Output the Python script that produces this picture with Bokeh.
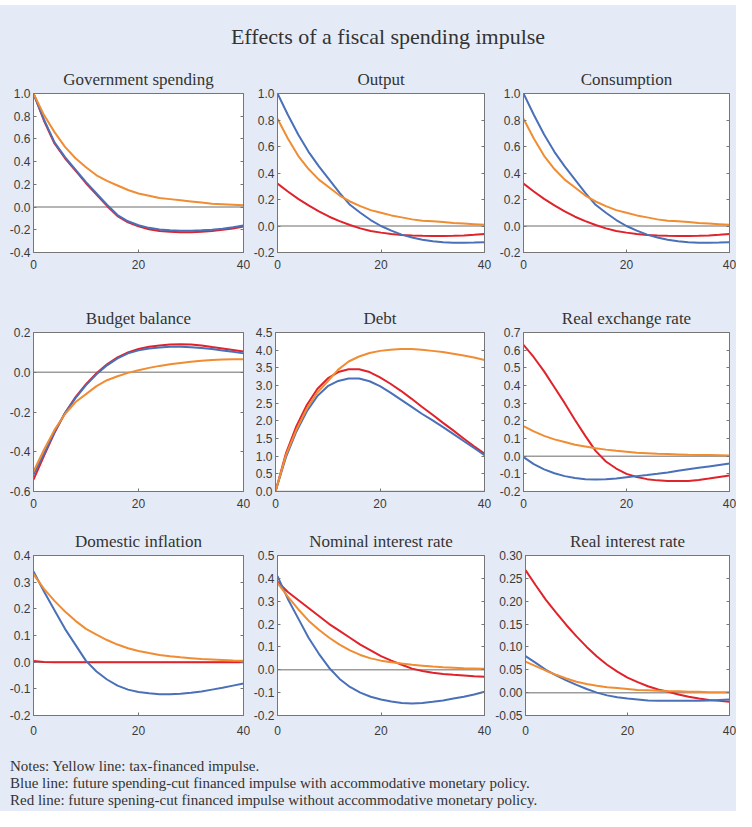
from bokeh.plotting import figure
from bokeh.layouts import column, row
from bokeh.models import (Div, Span, LinearAxis, FixedTicker, PrintfTickFormatter,
                          Range1d, CustomJSTickFormatter)
from bokeh.embed import file_html
from bokeh.resources import INLINE

# ---------------- data ----------------
quarters = [0, 2, 4, 6, 8, 10, 12, 14, 16, 18, 20, 22, 24, 26, 28, 30, 32, 34, 36, 38, 40]

gov_tax = [1.00, 0.81, 0.66, 0.53, 0.43, 0.35, 0.28, 0.23, 0.19, 0.15, 0.12, 0.10, 0.08, 0.07, 0.06, 0.05, 0.04, 0.03, 0.025, 0.02, 0.015]
gov_acc = [1.00, 0.77, 0.57, 0.44, 0.33, 0.22, 0.12, 0.02, -0.07, -0.125, -0.16, -0.183, -0.198, -0.205, -0.208, -0.208, -0.205, -0.199, -0.19, -0.177, -0.162]
gov_noacc = [1.00, 0.76, 0.56, 0.43, 0.32, 0.21, 0.11, 0.01, -0.08, -0.135, -0.17, -0.195, -0.21, -0.218, -0.222, -0.222, -0.218, -0.21, -0.2, -0.188, -0.172]

out_tax = [0.81, 0.66, 0.53, 0.43, 0.35, 0.29, 0.23, 0.185, 0.15, 0.12, 0.10, 0.08, 0.065, 0.05, 0.04, 0.035, 0.03, 0.022, 0.018, 0.014, 0.01]
out_acc = [1.00, 0.84, 0.69, 0.56, 0.45, 0.35, 0.25, 0.16, 0.10, 0.045, 0.0, -0.035, -0.065, -0.087, -0.103, -0.115, -0.122, -0.126, -0.127, -0.125, -0.122]
out_noacc = [0.32, 0.26, 0.205, 0.155, 0.11, 0.07, 0.037, 0.008, -0.018, -0.038, -0.05, -0.06, -0.068, -0.072, -0.074, -0.075, -0.075, -0.074, -0.071, -0.066, -0.06]

cons_tax = [0.81, 0.66, 0.53, 0.43, 0.35, 0.29, 0.23, 0.185, 0.15, 0.12, 0.10, 0.08, 0.065, 0.05, 0.04, 0.035, 0.03, 0.022, 0.018, 0.014, 0.01]
cons_acc = [1.00, 0.84, 0.69, 0.56, 0.45, 0.35, 0.25, 0.16, 0.10, 0.045, 0.0, -0.035, -0.065, -0.087, -0.103, -0.115, -0.122, -0.126, -0.127, -0.125, -0.122]
cons_noacc = [0.32, 0.26, 0.205, 0.155, 0.11, 0.07, 0.037, 0.008, -0.018, -0.038, -0.05, -0.06, -0.068, -0.072, -0.074, -0.075, -0.075, -0.074, -0.071, -0.066, -0.06]

bud_tax = [-0.50, -0.39, -0.29, -0.21, -0.15, -0.11, -0.07, -0.04, -0.02, -0.003, 0.01, 0.022, 0.032, 0.04, 0.047, 0.053, 0.058, 0.062, 0.064, 0.065, 0.066]
bud_acc = [-0.515, -0.41, -0.30, -0.205, -0.13, -0.065, -0.01, 0.035, 0.07, 0.095, 0.11, 0.12, 0.125, 0.128, 0.128, 0.126, 0.122, 0.117, 0.11, 0.103, 0.095]
bud_noacc = [-0.54, -0.42, -0.305, -0.205, -0.125, -0.06, -0.005, 0.04, 0.075, 0.10, 0.117, 0.128, 0.135, 0.14, 0.141, 0.14, 0.135, 0.127, 0.12, 0.112, 0.104]

debt_tax = [0.0, 1.03, 1.75, 2.35, 2.8, 3.12, 3.45, 3.68, 3.82, 3.92, 3.98, 4.01, 4.03, 4.03, 4.01, 3.98, 3.95, 3.9, 3.85, 3.79, 3.72]
debt_acc = [0.0, 0.97, 1.7, 2.27, 2.7, 2.98, 3.13, 3.2, 3.2, 3.12, 2.98, 2.8, 2.6, 2.4, 2.2, 2.02, 1.83, 1.63, 1.43, 1.23, 1.03]
debt_noacc = [0.0, 1.08, 1.85, 2.45, 2.9, 3.2, 3.38, 3.46, 3.46, 3.38, 3.23, 3.05, 2.85, 2.63, 2.4, 2.18, 1.95, 1.73, 1.5, 1.28, 1.07]

rer_tax = [0.17, 0.14, 0.115, 0.095, 0.08, 0.065, 0.055, 0.045, 0.037, 0.03, 0.025, 0.02, 0.017, 0.014, 0.012, 0.01, 0.008, 0.007, 0.006, 0.005, 0.004]
rer_acc = [-0.005, -0.045, -0.075, -0.097, -0.113, -0.123, -0.13, -0.132, -0.131, -0.127, -0.12, -0.113, -0.107, -0.1, -0.092, -0.083, -0.074, -0.066, -0.058, -0.05, -0.042]
rer_noacc = [0.63, 0.56, 0.48, 0.39, 0.30, 0.205, 0.115, 0.03, -0.03, -0.07, -0.10, -0.118, -0.13, -0.137, -0.14, -0.14, -0.14, -0.135, -0.127, -0.118, -0.11]

inf_tax = [0.33, 0.275, 0.23, 0.19, 0.155, 0.125, 0.103, 0.083, 0.066, 0.052, 0.042, 0.034, 0.027, 0.022, 0.018, 0.015, 0.012, 0.01, 0.008, 0.006, 0.005]
inf_acc = [0.34, 0.265, 0.195, 0.125, 0.065, 0.005, -0.035, -0.065, -0.088, -0.103, -0.112, -0.117, -0.12, -0.12, -0.118, -0.115, -0.11, -0.103, -0.096, -0.088, -0.08]
inf_noacc = [0.004, 0.001, 0.0, 0.0, 0.0, 0.0, 0.0, 0.0, 0.0, 0.0, 0.0, 0.0, 0.0, 0.0, 0.0, 0.0, 0.0, 0.0, 0.0, 0.0, 0.0]

nom_tax = [0.38, 0.32, 0.265, 0.215, 0.175, 0.14, 0.11, 0.085, 0.065, 0.05, 0.04, 0.033, 0.027, 0.022, 0.018, 0.014, 0.011, 0.009, 0.007, 0.006, 0.005]
nom_acc = [0.41, 0.31, 0.225, 0.14, 0.07, 0.008, -0.04, -0.075, -0.1, -0.118, -0.13, -0.139, -0.145, -0.147, -0.145, -0.14, -0.134, -0.126, -0.118, -0.108, -0.096]
nom_noacc = [0.385, 0.34, 0.305, 0.27, 0.235, 0.2, 0.17, 0.14, 0.11, 0.085, 0.06, 0.04, 0.022, 0.005, -0.005, -0.013, -0.018, -0.022, -0.025, -0.028, -0.03]

rir_tax = [0.068, 0.058, 0.048, 0.039, 0.031, 0.024, 0.019, 0.015, 0.012, 0.01, 0.008, 0.006, 0.005, 0.004, 0.003, 0.003, 0.002, 0.002, 0.001, 0.001, 0.001]
rir_acc = [0.08, 0.065, 0.05, 0.038, 0.027, 0.017, 0.008, 0.0, -0.006, -0.01, -0.013, -0.015, -0.017, -0.018, -0.018, -0.018, -0.018, -0.018, -0.017, -0.016, -0.015]
rir_noacc = [0.268, 0.235, 0.203, 0.175, 0.148, 0.123, 0.1, 0.079, 0.061, 0.046, 0.033, 0.023, 0.014, 0.007, 0.002, -0.004, -0.009, -0.013, -0.016, -0.018, -0.02]

titles = ["Government spending", "Output", "Consumption",
          "Budget balance", "Debt", "Real exchange rate",
          "Domestic inflation", "Nominal interest rate", "Real interest rate"]

x_ticks = [0, 20, 40]
ticks_gov = [-0.4, -0.2, 0.0, 0.2, 0.4, 0.6, 0.8, 1.0]
ticks_out = [-0.2, 0.0, 0.2, 0.4, 0.6, 0.8, 1.0]
ticks_bud = [-0.6, -0.4, -0.2, 0.0, 0.2]
ticks_debt = [0.0, 0.5, 1.0, 1.5, 2.0, 2.5, 3.0, 3.5, 4.0, 4.5]
ticks_rer = [-0.2, -0.1, 0.0, 0.1, 0.2, 0.3, 0.4, 0.5, 0.6, 0.7]
ticks_inf = [-0.2, -0.1, 0.0, 0.1, 0.2, 0.3, 0.4]
ticks_nom = [-0.2, -0.1, 0.0, 0.1, 0.2, 0.3, 0.4, 0.5]
ticks_rir = [-0.05, 0.00, 0.05, 0.10, 0.15, 0.20, 0.25, 0.30]

main_title = "Effects of a fiscal spending impulse"
notes = ["Notes: Yellow line: tax-financed impulse.",
         "Blue line: future spending-cut financed impulse with accommodative monetary policy.",
         "Red line: future spening-cut financed impulse without accommodative monetary policy."]

# ---------------- styling ----------------
PANEL = "#E5EBF6"
ORANGE = "#F08C32"
BLUE = "#4A70B8"
RED = "#E0222B"
FRAME = "#767676"
ZERO = "#9C9C9C"
TXT = "#3A3A3A"
SERIF = "Liberation Serif"
SANS = "Liberation Sans"
BG = {"background-color": PANEL}

col_geom = [  # width, min_border_left, min_border_right
    (250, 33, 7),
    (242, 25, 8),
    (244, 31, 7),
]
row_geom = [  # height, min_border_top, min_border_bottom, x label standoff
    (234, 39, 36, 7),
    (232, 44, 29, 7),
    (227, 35, 32, 10),
]


def make_panel(title, tax, acc, noacc, yticks, fmt, ci, ri):
    w, mbl, mbr = col_geom[ci]
    h, mbt, mbb, xs = row_geom[ri]
    p = figure(width=w, height=h, x_range=Range1d(0, 40),
               y_range=Range1d(yticks[0], yticks[-1]),
               output_backend="svg", toolbar_location=None,
               min_border_left=mbl, min_border_right=mbr,
               min_border_top=mbt, min_border_bottom=mbb,
               background_fill_color="white", border_fill_color=PANEL,
               outline_line_color=FRAME, outline_line_width=1,
               title=title, styles=BG)
    p.title.align = "center"
    p.title.text_font = SERIF
    p.title.text_font_style = "normal"
    p.title.text_font_size = "17px"
    p.title.text_color = "#333333"
    p.title.standoff = 9
    p.xgrid.visible = False
    p.ygrid.visible = False

    p.xaxis.ticker = FixedTicker(ticks=x_ticks)
    p.yaxis.ticker = FixedTicker(ticks=yticks)
    p.yaxis.formatter = PrintfTickFormatter(format=fmt)
    for ax in (p.xaxis[0], p.yaxis[0]):
        ax.axis_line_color = FRAME
        ax.major_tick_line_color = FRAME
        ax.major_tick_in = 3
        ax.major_tick_out = 0
        ax.minor_tick_line_color = None
        ax.major_label_text_font = SANS
        ax.major_label_text_font_size = "12px"
        ax.major_label_text_color = TXT
    p.yaxis.major_label_standoff = 3
    p.xaxis.major_label_standoff = xs

    rax = LinearAxis(ticker=FixedTicker(ticks=yticks),
                     formatter=CustomJSTickFormatter(code="return ''"),
                     axis_line_color=FRAME, major_tick_line_color=FRAME,
                     major_tick_in=3, major_tick_out=0, minor_tick_line_color=None,
                     major_label_standoff=0)
    p.add_layout(rax, "right")

    p.add_layout(Span(location=0, dimension="width", line_color=ZERO,
                      line_width=1.5, level="underlay"))
    p.line(quarters, noacc, line_color=RED, line_width=2)
    p.line(quarters, acc, line_color=BLUE, line_width=2)
    p.line(quarters, tax, line_color=ORANGE, line_width=2)
    return p


panels = [
    make_panel(titles[0], gov_tax, gov_acc, gov_noacc, ticks_gov, "%.1f", 0, 0),
    make_panel(titles[1], out_tax, out_acc, out_noacc, ticks_out, "%.1f", 1, 0),
    make_panel(titles[2], cons_tax, cons_acc, cons_noacc, ticks_out, "%.1f", 2, 0),
    make_panel(titles[3], bud_tax, bud_acc, bud_noacc, ticks_bud, "%.1f", 0, 1),
    make_panel(titles[4], debt_tax, debt_acc, debt_noacc, ticks_debt, "%.1f", 1, 1),
    make_panel(titles[5], rer_tax, rer_acc, rer_noacc, ticks_rer, "%.1f", 2, 1),
    make_panel(titles[6], inf_tax, inf_acc, inf_noacc, ticks_inf, "%.1f", 0, 2),
    make_panel(titles[7], nom_tax, nom_acc, nom_noacc, ticks_nom, "%.1f", 1, 2),
    make_panel(titles[8], rir_tax, rir_acc, rir_noacc, ticks_rir, "%.2f", 2, 2),
]

TOTAL_W = 736

title_div = Div(
    text=(
        '<div style="width:736px;height:54px;margin:0;padding:0;">'
        '<div style="height:5px;background:white;"></div>'
        f'<div style="height:49px;background:{PANEL};box-sizing:border-box;'
        f'padding-top:19px;padding-left:40px;text-align:center;'
        f"font-family:'{SERIF}',serif;font-size:22px;line-height:26px;color:#333333;\">"
        f'{main_title}</div></div>'
    ),
    width=TOTAL_W, height=54, margin=0,
)

notes_html = "<br>".join(notes)
notes_div = Div(
    text=(
        f'<div style="width:736px;height:64px;background:{PANEL};box-sizing:border-box;'
        f'padding-top:11px;padding-left:10px;'
        f"font-family:'{SERIF}',serif;font-size:15px;line-height:17px;color:#333333;\">"
        f'{notes_html}</div>'
    ),
    width=TOTAL_W, height=64, margin=0, styles=BG,
)

rows = [row(panels[i * 3:(i + 1) * 3], spacing=0, styles=BG) for i in range(3)]
layout = column([title_div] + rows + [notes_div], spacing=0)

open("out.html", "w").write(file_html(layout, INLINE))
